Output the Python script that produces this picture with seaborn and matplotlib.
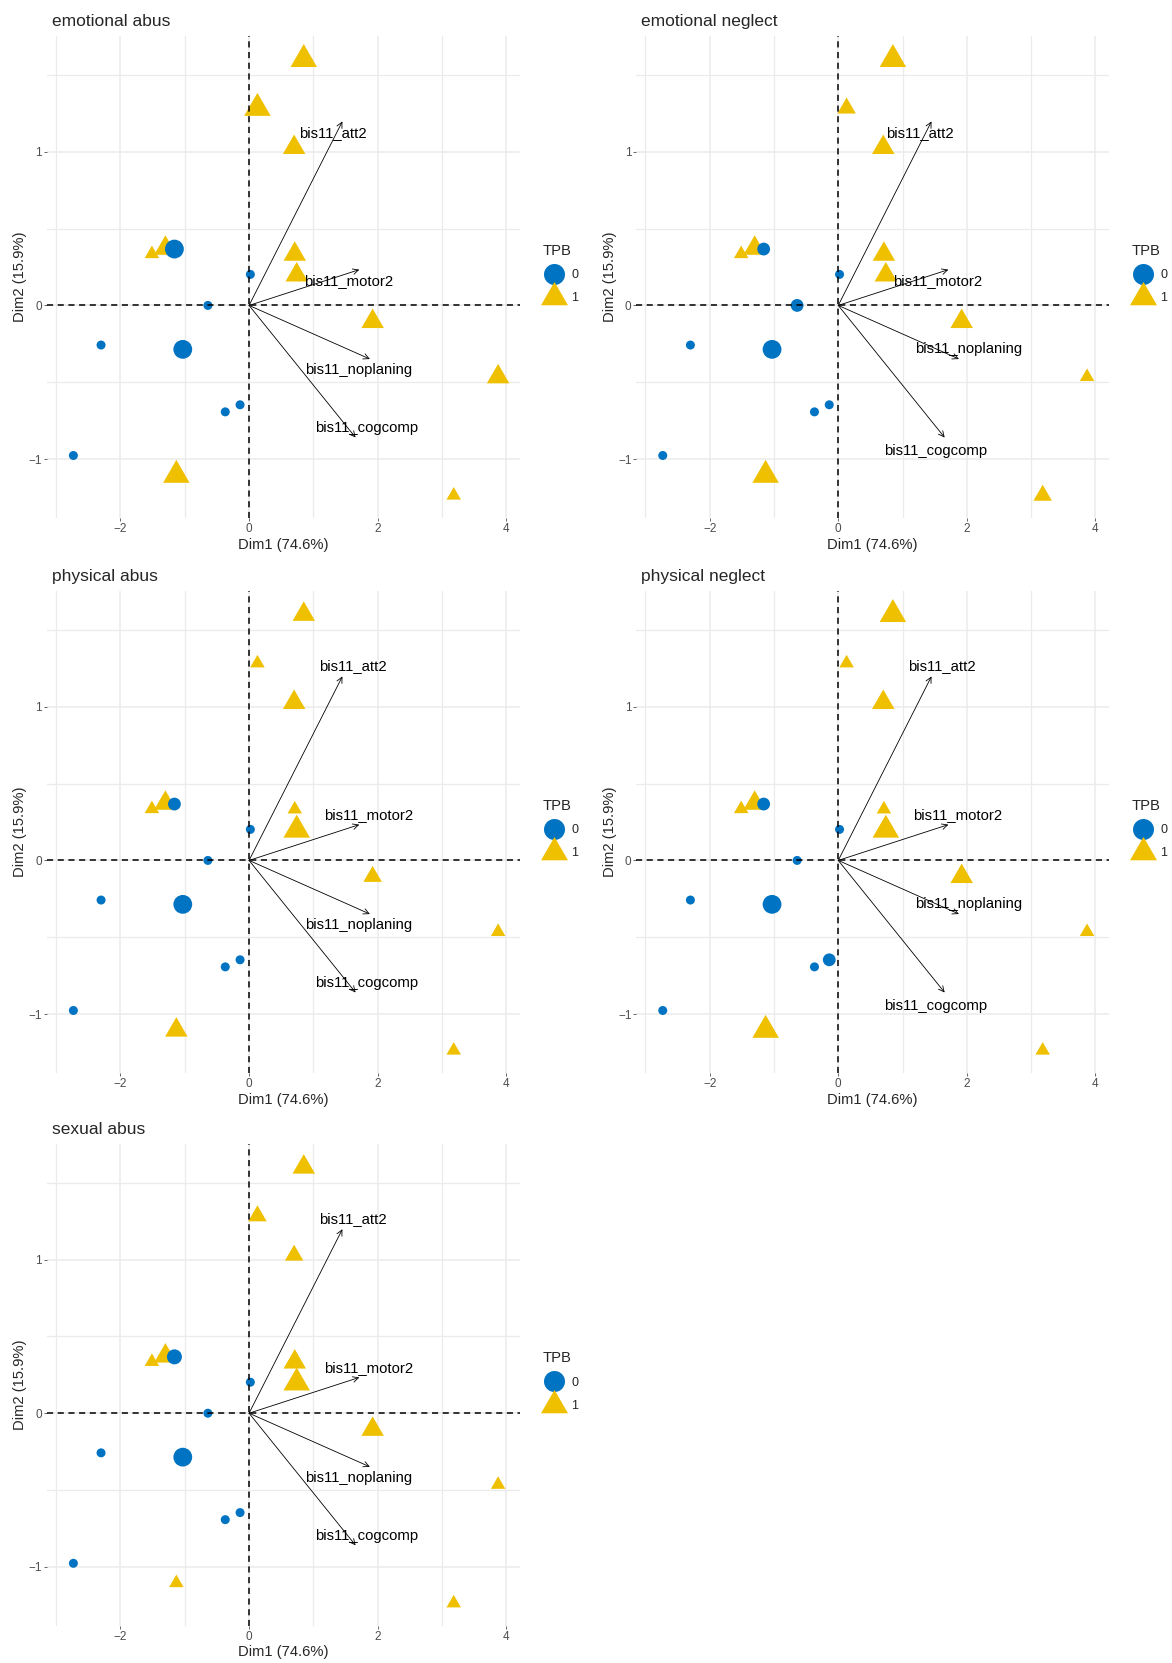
import matplotlib
matplotlib.use("Agg")
import matplotlib.pyplot as plt
import numpy as np
import pandas as pd
import seaborn as sns
from matplotlib.lines import Line2D

# individuals (PCA coordinates, same in every panel)
dim1 = [-1.16, 0.02, -0.64, -2.30, -1.03, -0.37, -0.14, -2.73,
        0.85, 0.13, 0.70, -1.30, -1.51, 0.71, 0.74, 1.92, 3.87, -1.13, 3.18]
dim2 = [0.367, 0.202, 0.0, -0.258, -0.286, -0.693, -0.647, -0.977,
        1.602, 1.284, 1.028, 0.372, 0.335, 0.333, 0.198, -0.105, -0.465, -1.105, -1.237]
tpb = [0] * 8 + [1] * 11

panel_titles = ["emotional abus", "emotional neglect", "physical abus",
                "physical neglect", "sexual abus"]
# trauma score per individual (drives point size)
score_emotional_abus = [4, 1, 1, 1, 4, 1, 1, 1, 4, 4, 3, 3, 1, 3, 3, 3, 3, 4, 1]
score_emotional_neglect = [2, 1, 2, 1, 4, 1, 1, 1, 4, 2, 3, 3, 1, 3, 3, 3, 1, 4, 2]
score_physical_abus = [2, 1, 1, 1, 4, 1, 1, 1, 3, 1, 3, 3, 1, 1, 4, 2, 1, 3, 1]
score_physical_neglect = [2, 1, 1, 1, 4, 1, 2, 1, 4, 1, 3, 3, 1, 1, 4, 3, 1, 4, 1]
score_sexual_abus = [3, 1, 1, 1, 4, 1, 1, 1, 3, 2, 2, 3, 1, 3, 4, 3, 1, 1, 1]
panel_scores = [score_emotional_abus, score_emotional_neglect, score_physical_abus,
                score_physical_neglect, score_sexual_abus]

# variables (arrows)
var_names = ["bis11_att2", "bis11_motor2", "bis11_noplaning", "bis11_cogcomp"]
var_dim1 = [1.45, 1.713, 1.877, 1.655]
var_dim2 = [1.198, 0.233, -0.349, -0.86]

# repelled label placements (per panel)
label_layout_a = [(1.30, 1.123), (1.54, 0.158), (1.70, -0.423), (1.83, -0.80)]
label_layout_b = [(1.275, 1.123), (1.55, 0.158), (2.02, -0.284), (1.51, -0.947)]
label_layout_c = [(1.61, 1.267), (1.86, 0.295), (1.70, -0.423), (1.83, -0.80)]
label_layout_d = [(1.606, 1.267), (1.855, 0.295), (2.02, -0.284), (1.51, -0.947)]
panel_labels = [label_layout_a, label_layout_b, label_layout_c, label_layout_d, label_layout_c]

BLUE = "#0073C2"
GOLD = "#EFC000"
TRI = [(0, 1), (-0.866, -0.5), (0.866, -0.5)]

sns.set_theme(style="white")
plt.rcParams["font.family"] = ["Liberation Sans", "DejaVu Sans"]

W, H = 1172, 1663
fig = plt.figure(figsize=(W / 100, H / 100), dpi=100)

px2pt = 0.72
circle_sizes = {k: (d * px2pt) ** 2 for k, d in zip([1, 2, 3, 4], [9, 12.8, 15, 18.8])}
tri_sizes = {k: (w * px2pt / 0.866) ** 2 for k, w in zip([1, 2, 3, 4], [14.5, 18.5, 22.5, 26.5])}

col_left = [47.0, 636.4]
col_width = [473, 472.5]
row_top = [35.7, 590.7, 1143.5]
panel_h = 482.3

for i, title in enumerate(panel_titles):
    r, c = divmod(i, 2)
    left = col_left[c] / W
    bottom = 1 - (row_top[r] + panel_h) / H
    ax = fig.add_axes([left, bottom, col_width[c] / W, panel_h / H])

    df = pd.DataFrame({"Dim1": dim1, "Dim2": dim2, "TPB": tpb, "score": panel_scores[i]})
    tri_df = df[df["TPB"] == 1]
    circ_df = df[df["TPB"] == 0]
    sns.scatterplot(data=tri_df, x="Dim1", y="Dim2", size="score", sizes=tri_sizes,
                    marker=TRI, color=GOLD, linewidth=0, legend=False, ax=ax, zorder=3)
    sns.scatterplot(data=circ_df, x="Dim1", y="Dim2", size="score", sizes=circle_sizes,
                    marker="o", color=BLUE, linewidth=0, legend=False, ax=ax, zorder=4)

    ax.axhline(0, color="black", ls=(0, (4, 3)), lw=1.1, zorder=5)
    ax.axvline(0, color="black", ls=(0, (4, 3)), lw=1.1, zorder=5)

    for name, vx, vy, (lx, ly) in zip(var_names, var_dim1, var_dim2, panel_labels[i]):
        ax.annotate("", xy=(vx, vy), xytext=(0, 0),
                    arrowprops=dict(arrowstyle="->", lw=0.6, color="black",
                                    shrinkA=0, shrinkB=0, mutation_scale=10),
                    zorder=6)
        ax.text(lx, ly, name, fontsize=10.7, ha="center", va="center", color="black", zorder=7)

    ax.set_xlim(-3.14, 4.21)
    ax.set_ylim(-1.384, 1.756)
    ax.set_xticks([-2, 0, 2, 4])
    ax.set_xticks([-3, -1, 1, 3], minor=True)
    ax.set_yticks([-1, 0, 1])
    ax.set_yticks([-0.5, 0.5, 1.5], minor=True)
    ax.grid(which="major", color="#EBEBEB", lw=1.1)
    ax.grid(which="minor", color="#EBEBEB", lw=0.9)
    ax.set_axisbelow(True)
    for s in ax.spines.values():
        s.set_visible(False)
    ax.tick_params(which="major", length=2.5, width=0.6, color="#4D4D4D",
                   labelsize=8.5, labelcolor="#4D4D4D", pad=1, left=True, bottom=True)
    ax.tick_params(which="minor", length=0)
    ax.set_xlabel("Dim1 (74.6%)", fontsize=10.6, labelpad=2)
    ax.set_ylabel("Dim2 (15.9%)", fontsize=10.6, labelpad=1)
    ax.set_title(title, fontsize=12.5, loc="left", x=0.01, pad=7)

    handles = [Line2D([], [], marker="o", color=BLUE, ls="", ms=21 * px2pt, mew=0),
               Line2D([], [], marker=TRI, color=GOLD, ls="", ms=27 * px2pt / 0.866, mew=0)]
    leg = ax.legend(handles, ["0", "1"], title="TPB", frameon=False, loc="upper left",
                    bbox_to_anchor=(1.033, 0.583), borderpad=0.55, borderaxespad=0,
                    handletextpad=0.5, labelspacing=0.9, handlelength=1.8,
                    fontsize=9, title_fontsize=10.7, alignment="left")

fig.savefig("out.png", dpi=100)
